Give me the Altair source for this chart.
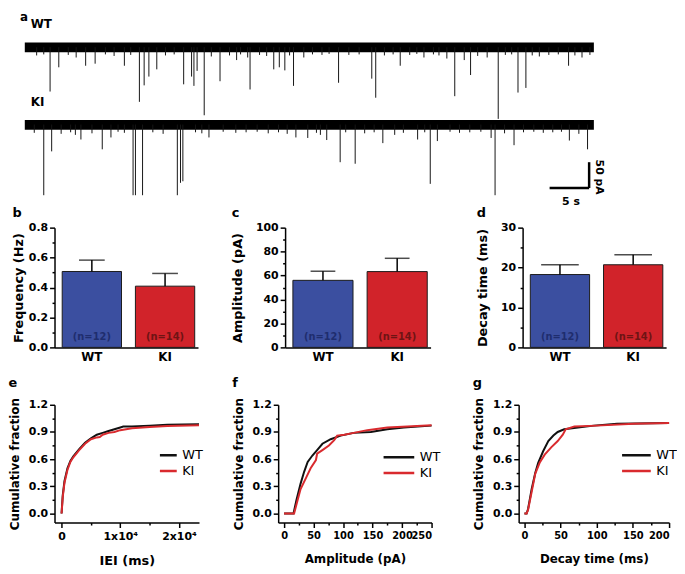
import altair as alt
import pandas as pd

FONT = "DejaVu Sans"
BLUE = "#3b4fa0"
RED = "#d1232a"
NAVY_TXT = "#1f2d6e"
RED_TXT = "#6e1414"
LINE_BLACK = "#111111"
LINE_RED = "#d92a2e"

GROUPS = ["WT", "KI"]

# ---------------- panel a : example traces ----------------
TRACE_BASELINE_PA = [0, -150]          # vertical offset of the WT and KI sweeps
TRACE_DURATION_S = 72
NOISE_BAND_PA = [-10, 9]               # baseline noise envelope
WT_EVENT_T = [3.2, 14.5, 15.1, 15.7, 16.7, 20.1, 21.1, 21.4, 21.8, 22.7, 24.7, 28.5, 31.5, 32.2,
              32.9, 34.0, 39.7, 43.9, 44.4, 47.5, 54.4, 56.4, 59.9, 62.4, 63.4, 68.8,
              4.3, 6.5, 7.7, 8.9, 12.6, 26.8, 28.2, 35.3, 50.5, 53.4, 55.6, 58.5, 65.1, 70.5, 71.5,
              1.5, 2.4, 5.5, 10.2, 11.3, 13.4, 17.8, 18.9, 23.6, 25.9, 27.3, 29.7, 30.6, 33.5,
              36.4, 37.6, 38.5, 41.0, 42.3, 45.5, 46.6, 48.7, 49.6, 51.7, 52.4, 57.3, 60.8, 61.6,
              64.2, 66.3, 67.5, 69.6]
WT_EVENT_PA = [86, 106, 74, 57, 43, 72, 57, 75, 46, 132, 66, 82, 43, 39,
               45, 75, 69, 61, 98, 36, 95, 54, 139, 88, 79, 36,
               39, 20, 36, 32, 36, 25, 20, 20, 20, 22, 25, 20, 18, 20, 15,
               16, 14, 15, 14, 17, 15, 16, 14, 18, 16, 14, 15, 17, 16,
               14, 15, 13, 15, 14, 16, 14, 15, 13, 14, 16, 17, 15, 14,
               16, 15, 14, 16]
KI_EVENT_T = [2.4, 3.4, 7.1, 9.8, 10.9, 13.7, 14.0, 14.9, 19.3, 19.7, 20.0, 23.3, 34.3, 35.8,
              38.2, 39.9, 41.8, 45.3, 49.7, 51.3, 52.2, 59.0, 59.5, 61.9, 68.9, 71.2,
              1.2, 4.6, 5.8, 6.4, 8.5, 11.8, 12.6, 16.2, 17.5, 21.6, 22.4, 25.1, 26.7, 28.0,
              29.4, 30.8, 32.1, 33.2, 36.9, 37.4, 40.6, 43.0, 44.2, 46.8, 47.9, 50.6, 53.8,
              55.0, 56.3, 57.7, 60.7, 63.1, 64.4, 65.6, 66.8, 67.9, 70.1]
KI_EVENT_PA = [137, 52, 29, 48, 25, 137, 137, 137, 137, 113, 110, 25, 25, 26,
               30, 73, 76, 36, 29, 115, 32, 26, 137, 40, 31, 48,
               16, 18, 15, 20, 17, 14, 16, 15, 18, 15, 17, 14, 16, 15,
               14, 17, 15, 18, 16, 20, 15, 17, 15, 20, 16, 15, 14,
               16, 15, 14, 17, 15, 14, 16, 15, 14, 18]
SCALE_BAR_S = [66.4, 71.4]             # 5 s
SCALE_BAR_PA = [-273, -223]            # 50 pA
# the sweep view is aligned with panel b's plot; the sweeps start a little left of it
TRACE_X_DOMAIN = [3.76, 72.0]
TRACE_Y_DOMAIN = [-300, 68.4]
LABEL_T = 0.75
LABEL_PA = [44, -107]

# ---------------- panels b-d : bar graphs ----------------
N_TEXT = ["(n=12)", "(n=14)"]
FREQ_MEAN = [0.507, 0.409]
FREQ_UPPER = [0.583, 0.494]
AMP_MEAN = [56.0, 63.3]
AMP_UPPER = [63.6, 74.4]
DECAY_MEAN = [18.25, 20.7]
DECAY_UPPER = [20.7, 23.2]

# ---------------- panels e-g : cumulative distributions ----------------
IEI_WT_X = [0, 200, 500, 1000, 1500, 2000, 3000, 4000, 5000, 6000, 7000, 8000, 9000, 10000,
            10500, 12000, 15000, 18000, 23400]
IEI_WT_Y = [0, 0.20, 0.36, 0.50, 0.58, 0.63, 0.71, 0.78, 0.83, 0.87, 0.89, 0.91, 0.93, 0.95,
            0.96, 0.96, 0.97, 0.98, 0.985]
IEI_KI_X = [0, 200, 500, 1000, 1500, 2000, 3000, 4000, 5000, 6000, 6500, 7000, 8000, 9000,
            10000, 12000, 15000, 18000, 23400]
IEI_KI_Y = [0, 0.18, 0.34, 0.48, 0.57, 0.62, 0.70, 0.77, 0.82, 0.84, 0.845, 0.87, 0.89, 0.90,
            0.92, 0.94, 0.955, 0.965, 0.975]
AMP_WT_X = [0, 16, 21, 28, 34, 40, 48, 56, 65, 79, 96, 118, 147, 175, 203, 250]
AMP_WT_Y = [0, 0, 0.15, 0.33, 0.46, 0.57, 0.64, 0.70, 0.77, 0.82, 0.86, 0.89, 0.90, 0.93, 0.95, 0.97]
AMP_KI_X = [0, 17, 23, 28, 37, 45, 54, 56, 65, 76, 85, 90, 102, 118, 141, 175, 209, 250]
AMP_KI_Y = [0, 0, 0.15, 0.27, 0.39, 0.50, 0.59, 0.66, 0.70, 0.75, 0.81, 0.86, 0.87, 0.89, 0.92,
            0.95, 0.96, 0.975]
DEC_WT_X = [0, 3, 5, 10, 15, 19, 26, 33, 40, 46, 55, 74, 96, 128, 200]
DEC_WT_Y = [0, 0, 0.05, 0.27, 0.45, 0.56, 0.69, 0.80, 0.86, 0.90, 0.93, 0.95, 0.97, 0.99, 1.0]
DEC_KI_X = [0, 3, 5, 10, 15, 21, 28, 37, 46, 53, 57, 69, 100, 151, 200]
DEC_KI_Y = [0, 0, 0.04, 0.24, 0.44, 0.56, 0.65, 0.73, 0.80, 0.87, 0.93, 0.96, 0.97, 0.99, 1.0]
CDF_Y_TICKS = [0, 0.15, 0.3, 0.45, 0.6, 0.75, 0.9, 1.05, 1.2]


def cond_tick(test, minor=2.5, major=5):
    return {"condition": {"test": test, "value": minor}, "value": major}


# ======================= row 1 : traces =======================
ev_rows = []
for name, base, ts, amps in [("WT", TRACE_BASELINE_PA[0], WT_EVENT_T, WT_EVENT_PA),
                             ("KI", TRACE_BASELINE_PA[1], KI_EVENT_T, KI_EVENT_PA)]:
    for t, a in zip(ts, amps):
        ev_rows.append({"trace": name, "t": t, "y0": base, "y1": base - a})
events = pd.DataFrame(ev_rows)
bands = pd.DataFrame({
    "trace": GROUPS,
    "t0": [0, 0], "t1": [TRACE_DURATION_S] * 2,
    "lo": [b + NOISE_BAND_PA[0] for b in TRACE_BASELINE_PA],
    "hi": [b + NOISE_BAND_PA[1] for b in TRACE_BASELINE_PA],
})
bar_df = pd.DataFrame({
    "x": [SCALE_BAR_S[0], SCALE_BAR_S[1]],
    "x2": [SCALE_BAR_S[1], SCALE_BAR_S[1]],
    "y": [SCALE_BAR_PA[0], SCALE_BAR_PA[0]],
    "y2": [SCALE_BAR_PA[0], SCALE_BAR_PA[1]],
})
label_df = pd.DataFrame({"t": [LABEL_T, LABEL_T], "v": LABEL_PA, "txt": GROUPS})

xs = alt.Scale(domain=TRACE_X_DOMAIN, nice=False, zero=False)
ys = alt.Scale(domain=TRACE_Y_DOMAIN, nice=False, zero=False)

band_layer = alt.Chart(bands).mark_rect(color="black").encode(
    x=alt.X("t0:Q", scale=xs, axis=None), x2="t1:Q",
    y=alt.Y("lo:Q", scale=ys, axis=None), y2="hi:Q")
event_layer = alt.Chart(events).mark_rule(color="#151515", strokeWidth=1).encode(
    x=alt.X("t:Q", scale=xs, axis=None),
    y=alt.Y("y0:Q", scale=ys, axis=None), y2="y1:Q")
sbar_layer = alt.Chart(bar_df).mark_rule(color="black", strokeWidth=2.5).encode(
    x=alt.X("x:Q", scale=xs, axis=None), x2="x2:Q",
    y=alt.Y("y:Q", scale=ys, axis=None), y2="y2:Q")
lab_layer = alt.Chart(label_df).mark_text(font=FONT, fontWeight="bold", fontSize=12,
                                          align="left", baseline="middle").encode(
    x=alt.X("t:Q", scale=xs, axis=None), y=alt.Y("v:Q", scale=ys, axis=None), text="txt:N")
a_layer = alt.Chart(pd.DataFrame({"txt": ["a"]})).mark_text(
    font=FONT, fontWeight="bold", fontSize=12, align="left", baseline="top").encode(
    x=alt.XDatum(-0.6, scale=xs), y=alt.YDatum(TRACE_Y_DOMAIN[1], scale=ys), text="txt:N")
pa_layer = alt.Chart(pd.DataFrame({"txt": ["50 pA"]})).mark_text(
    font=FONT, fontWeight="bold", fontSize=11, angle=90, align="center", baseline="middle").encode(
    x=alt.XDatum(72.6, scale=xs), y=alt.YDatum(sum(SCALE_BAR_PA) / 2 - 4, scale=ys), text="txt:N")
s_layer = alt.Chart(pd.DataFrame({"txt": ["5 s"]})).mark_text(
    font=FONT, fontWeight="bold", fontSize=11, align="center", baseline="middle").encode(
    x=alt.XDatum(sum(SCALE_BAR_S) / 2 + 0.2, scale=xs), y=alt.YDatum(-300, scale=ys), text="txt:N")

row1 = alt.layer(band_layer, event_layer, sbar_layer, lab_layer, a_layer, pa_layer, s_layer
                 ).properties(width=545, height=192)


# ======================= row 2 : bar graphs =======================
def bar_panel(letter, ytitle, means, uppers, ymax, tick_vals, minor_test, fmt, cap, title_dx,
              title_pad, width):
    df = pd.DataFrame({"g": GROUPS, "mean": means, "upper": uppers, "n": N_TEXT})
    xenc = alt.X("g:N", sort=GROUPS,
                 scale=alt.Scale(paddingInner=0.19, paddingOuter=0.075, align=0.7),
                 axis=alt.Axis(title=None, labelAngle=0, ticks=False, labelFontSize=12,
                               labelPadding=4))
    yscale = alt.Scale(domain=[0, ymax], nice=False)
    yaxis = alt.Axis(title=ytitle, values=tick_vals,
                     labelExpr=f"({minor_test}) ? '' : format(datum.value, '{fmt}')",
                     tickSize=cond_tick(minor_test), labelFontSize=11, titleFontSize=13,
                     titlePadding=title_pad, labelPadding=2, labelOverlap=False)
    base = alt.Chart(df)
    bars = base.mark_bar(stroke="#1b1b1b", strokeWidth=1).encode(
        x=xenc, y=alt.Y("mean:Q", scale=yscale, axis=yaxis),
        fill=alt.condition(alt.datum.g == "WT", alt.value(BLUE), alt.value(RED)))
    stem = base.mark_rule(color="black", strokeWidth=1.5).encode(
        x=xenc, y=alt.Y("mean:Q", scale=yscale, axis=yaxis), y2="upper:Q")
    caps = base.mark_tick(color="black", thickness=1.5, size=cap).encode(
        x=xenc, y=alt.Y("upper:Q", scale=yscale, axis=yaxis))
    ntext = base.mark_text(font=FONT, fontWeight="bold", fontSize=10).encode(
        x=xenc, y=alt.YDatum(ymax * 0.09, scale=yscale, axis=yaxis), text="n:N",
        color=alt.condition(alt.datum.g == "WT", alt.value(NAVY_TXT), alt.value(RED_TXT)))
    return alt.layer(bars, stem, caps, ntext).properties(
        width=width, height=121,
        title=alt.TitleParams(letter, anchor="start", dx=title_dx, offset=2, fontSize=13))


b = bar_panel("b", "Frequency (Hz)", FREQ_MEAN, FREQ_UPPER, 0.8,
              [round(i * 0.1, 1) for i in range(9)], "round(datum.value*10) % 2 == 1", ".1f", 26,
              0, 3, 145)
c = bar_panel("c", "Amplitude (pA)", AMP_MEAN, AMP_UPPER, 100,
              list(range(0, 101, 10)), "datum.value % 20 != 0", "d", 25, 0, 11, 147)
d = bar_panel("d", "Decay time (ms)", DECAY_MEAN, DECAY_UPPER, 30,
              list(range(0, 31, 5)), "datum.value % 10 != 0", "d", 38, 0, 11, 145)
row2 = alt.hconcat(b, alt.hconcat(c, d, spacing=46), spacing=34)


# ======================= row 3 : cumulative plots =======================
def cdf_panel(letter, xtitle, xdomain, xvals, xminor, xlab, xlab_size, xtitle_size,
              wt_x, wt_y, ki_x, ki_y, lx, ly, sym_len, width, title_dx):
    df = pd.DataFrame({"x": wt_x + ki_x, "y": wt_y + ki_y,
                       "g": ["WT"] * len(wt_x) + ["KI"] * len(ki_x)})
    xaxis = alt.Axis(title=xtitle, values=xvals,
                     labelExpr=f"({xminor}) ? '' : {xlab}",
                     tickSize=cond_tick(xminor), labelFontSize=xlab_size,
                     titleFontSize=xtitle_size, titlePadding=13, labelPadding=3,
                     labelOverlap=False)
    yminor = "round(datum.value/0.15) % 2 == 1"
    yaxis = alt.Axis(title="Cumulative fraction", values=CDF_Y_TICKS,
                     labelExpr=f"({yminor}) ? '' : format(datum.value, '.1f')",
                     tickSize=cond_tick(yminor), labelFontSize=11, titleFontSize=12,
                     titlePadding=7, labelPadding=2, labelOverlap=False)
    legend = alt.Legend(title=None, orient="none", legendX=lx, legendY=ly, symbolType="stroke",
                        symbolSize=sym_len ** 2, symbolStrokeWidth=2.5, clipHeight=14,
                        rowPadding=2, labelFont=FONT, labelFontSize=13, labelFontWeight="normal",
                        labelColor="black", labelOffset=4, direction="vertical", columns=1)
    return alt.Chart(df).mark_line(strokeWidth=2).encode(
        x=alt.X("x:Q", scale=alt.Scale(domain=xdomain, nice=False, zero=False), axis=xaxis),
        y=alt.Y("y:Q", scale=alt.Scale(domain=[-0.1, 1.2], nice=False, zero=False), axis=yaxis),
        color=alt.Color("g:N", scale=alt.Scale(domain=GROUPS, range=[LINE_BLACK, LINE_RED]),
                        legend=legend),
    ).properties(width=width, height=119,
                 title=alt.TitleParams(letter, anchor="start", dx=title_dx, offset=8, fontSize=13))


e = cdf_panel("e", "IEI (ms)", [-1200, 23400], list(range(0, 20001, 5000)),
              "datum.value % 10000 != 0",
              "(datum.value == 0 ? '0' : format(datum.value/10000, 'd') + 'x10\u2074')", 11, 13,
              IEI_WT_X, IEI_WT_Y, IEI_KI_X, IEI_KI_Y, 105, 44, 17, 146, 0)
f = cdf_panel("f", "Amplitude (pA)", [-10, 250], list(range(0, 251, 25)),
              "datum.value % 50 != 0", "format(datum.value, 'd')", 10, 12,
              AMP_WT_X, AMP_WT_Y, AMP_KI_X, AMP_KI_Y, 105, 46, 31, 155, 0)
g = cdf_panel("g", "Decay time (ms)", [-8, 200], list(range(0, 201, 25)),
              "datum.value % 50 != 0", "format(datum.value, 'd')", 10, 12,
              DEC_WT_X, DEC_WT_Y, DEC_KI_X, DEC_KI_Y, 103, 44, 29, 152, 0)

fg = alt.hconcat(f, g, spacing=32).resolve_scale(color="independent").resolve_legend(color="independent")
row3 = alt.hconcat(e, fg, spacing=29).resolve_scale(color="independent").resolve_legend(color="independent")

top = alt.vconcat(row1, row2, spacing=0)
chart = alt.vconcat(top, row3, spacing=14).resolve_scale(
    color="independent").resolve_legend(color="independent").properties(
    padding=0).configure_view(stroke=None).configure_axis(
    labelFont=FONT, titleFont=FONT, labelFontWeight="bold", titleFontWeight="bold",
    labelColor="black", titleColor="black", domainColor="black", tickColor="black",
    domainWidth=1.5, tickWidth=1.5, grid=False).configure_title(
    font=FONT, fontWeight="bold", color="black", anchor="start")

chart.save("out.html", embed_options={"renderer": "svg", "actions": False})
